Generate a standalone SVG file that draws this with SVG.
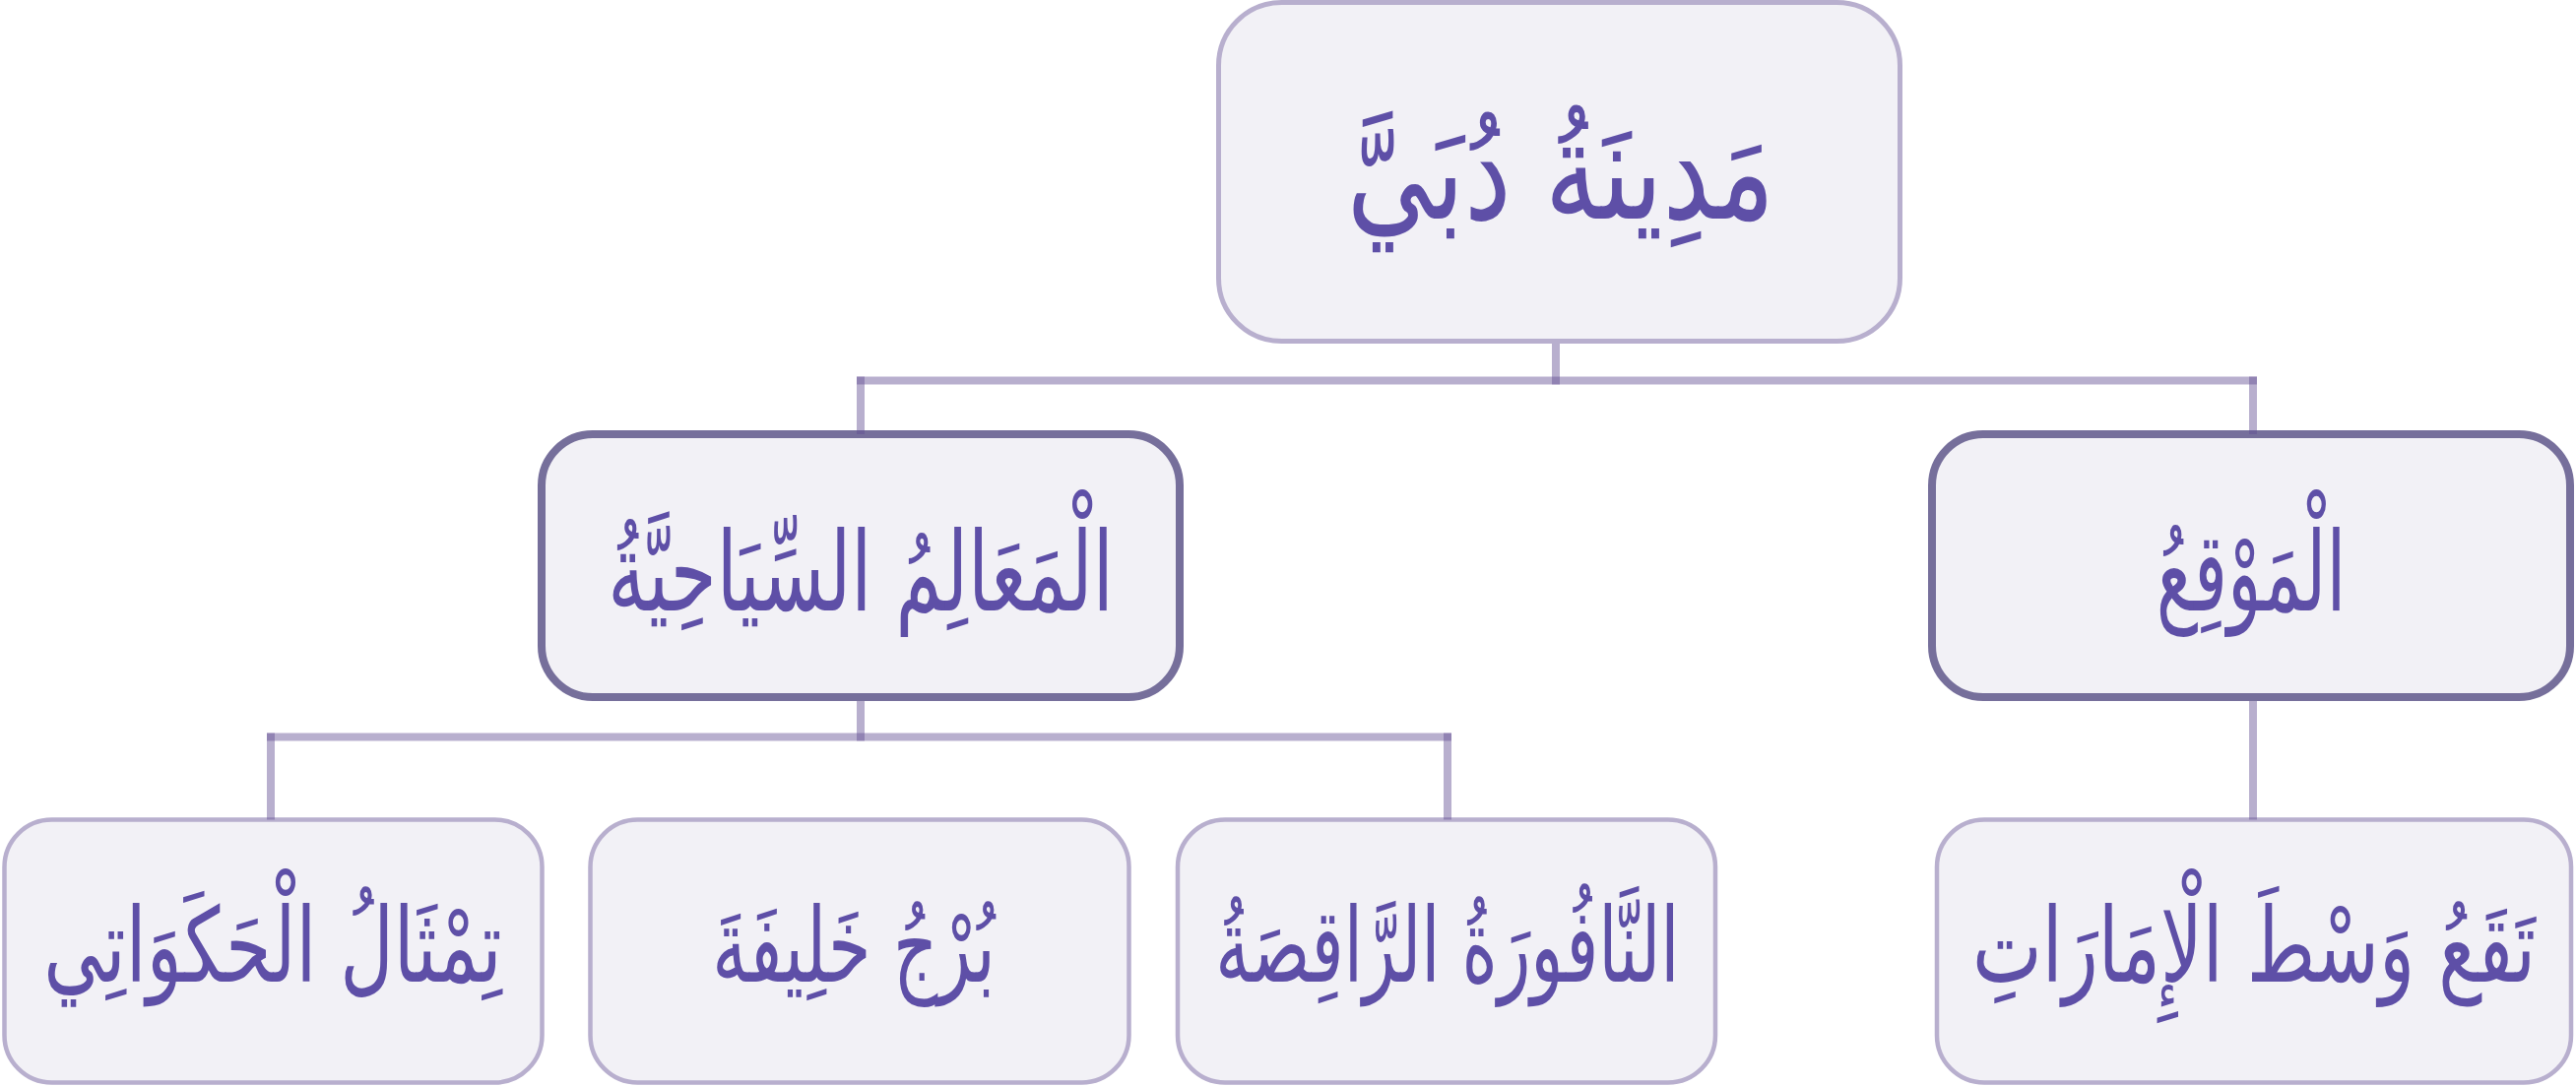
<svg xmlns="http://www.w3.org/2000/svg" width="2616" height="1103" viewBox="0 0 2616 1103">
  <style>
    .box { fill: #F2F1F6; }
    .light { stroke: #B8AFCE; stroke-width: 5; }
    .bottom { stroke: #B8AFCE; stroke-width: 4.5; }
    .dark { stroke: #766F9B; stroke-width: 8; }
    .lbl { fill: #5E4FA7; font-family: "DejaVu Sans", sans-serif; text-anchor: middle; direction: rtl; }
    .conn { fill: none; stroke: #624E93; stroke-opacity: 0.45; stroke-width: 8; }
  </style>
  <rect width="2616" height="1103" fill="#FFFFFF"/>

  <g id="root">
    <rect class="box light" x="1237.5" y="2.5" width="692" height="344" rx="64"/>
    <text class="lbl" transform="translate(1585 222) scale(0.766 1)" font-size="140">مَدِينَةُ دُبَيَّ</text>
  </g>

  <g id="landmarks">
    <rect class="box dark" x="550" y="441" width="648" height="267" rx="52"/>
    <text class="lbl" transform="translate(874 620) scale(0.677 1)" font-size="112">الْمَعَالِمُ السِّيَاحِيَّةُ</text>
  </g>

  <g id="location">
    <rect class="box dark" x="1962" y="441" width="648" height="267" rx="52"/>
    <text class="lbl" transform="translate(2286 620) scale(0.64 1)" font-size="112">الْمَوْقِعُ</text>
  </g>

  <g id="statue">
    <rect class="box bottom" x="4.5" y="832.5" width="546" height="267" rx="48"/>
    <text class="lbl" transform="translate(277 997) scale(0.716 1)" font-size="105">تِمْثَالُ الْحَكَوَاتِي</text>
  </g>

  <g id="burj">
    <rect class="box bottom" x="599.5" y="832.5" width="547" height="267" rx="48"/>
    <text class="lbl" transform="translate(867 997) scale(0.67 1)" font-size="105">بُرْجُ خَلِيفَةَ</text>
  </g>

  <g id="fountain">
    <rect class="box bottom" x="1196" y="832.5" width="546" height="267" rx="48"/>
    <text class="lbl" transform="translate(1470 997) scale(0.66 1)" font-size="105">النَّافُورَةُ الرَّاقِصَةُ</text>
  </g>

  <g id="emirates">
    <rect class="box bottom" x="1967" y="832.5" width="644" height="267" rx="48"/>
    <text class="lbl" transform="translate(2289 997) scale(0.716 1)" font-size="105">تَقَعُ وَسْطَ الْإِمَارَاتِ</text>
  </g>

  <g id="connectors">
    <path class="conn" d="M1580 349 V390.5"/>
    <path class="conn" d="M870 386.5 H2292"/>
    <path class="conn" d="M874 382.5 V441"/>
    <path class="conn" d="M2288 382.5 V441"/>
    <path class="conn" d="M874 712 V752.5"/>
    <path class="conn" d="M271 748.5 H1474"/>
    <path class="conn" d="M275 744.5 V832.5"/>
    <path class="conn" d="M1470 744.5 V832.5"/>
    <path class="conn" d="M2288 712 V832.5"/>
  </g>
</svg>
